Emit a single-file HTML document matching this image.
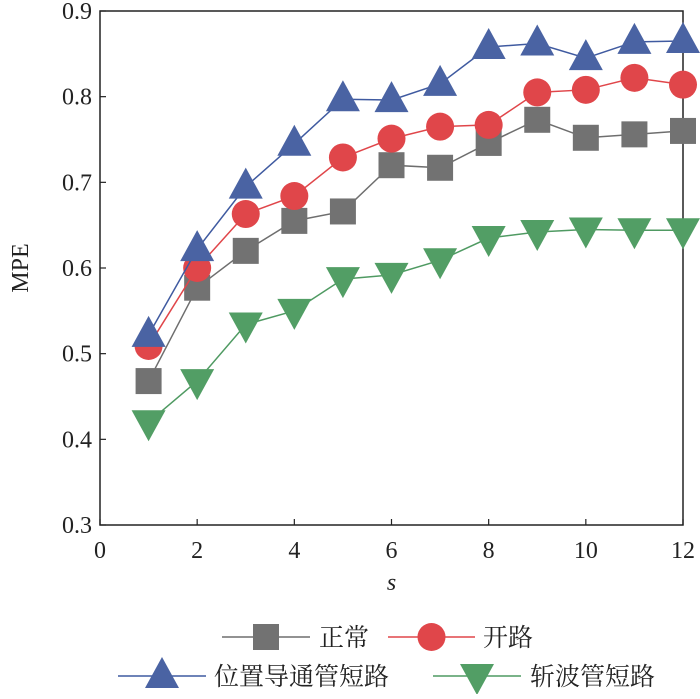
<!DOCTYPE html>
<html><head><meta charset="utf-8"><style>
body{margin:0;background:#fff;}
svg text{font-family:"Liberation Serif","Noto Serif CJK SC",serif;fill:#222;}
</style></head><body>
<svg id="chart" width="700" height="694" xmlns="http://www.w3.org/2000/svg"></svg>
<script>
const xValues=[1,2,3,4,5,6,7,8,9,10,11,12];
const normalVals=[0.468,0.577,0.620,0.655,0.666,0.720,0.717,0.746,0.773,0.752,0.756,0.760];
const openVals=[0.509,0.600,0.663,0.684,0.729,0.751,0.765,0.767,0.805,0.808,0.822,0.814];
const posShortVals=[0.522,0.622,0.695,0.745,0.797,0.796,0.815,0.858,0.862,0.845,0.864,0.865];
const chopShortVals=[0.420,0.468,0.534,0.550,0.587,0.592,0.609,0.635,0.642,0.645,0.644,0.644];
const xTicks=[0,2,4,6,8,10,12];
const yTicks=[0.3,0.4,0.5,0.6,0.7,0.8,0.9];
const seriesNames=["正常","开路","位置导通管短路","斩波管短路"];

const NS="http://www.w3.org/2000/svg";
const svg=document.getElementById('chart');
const L=100,R=683,T=11,B=525;
const xs=v=>L+(v-0)/12*(R-L);
const ys=v=>B-(v-0.3)/0.6*(B-T);
function mk(tag,attrs,parent){const e=document.createElementNS(NS,tag);for(const k in attrs)e.setAttribute(k,attrs[k]);(parent||svg).appendChild(e);return e;}

function marker(type,x,y,g){
  let e;
  if(type==='square'){e=mk('rect',{x:x-13,y:y-13,width:26,height:26,fill:'#727272'},g);}
  else if(type==='circle'){e=mk('circle',{cx:x,cy:y,r:14,fill:'#e0464a'},g);}
  else if(type==='up'){e=mk('polygon',{points:`${x},${y-19} ${x-17},${y+12} ${x+17},${y+12}`,fill:'#4a63a3'},g);}
  else {e=mk('polygon',{points:`${x},${y+19} ${x-17},${y-12} ${x+17},${y-12}`,fill:'#529e65'},g);}
  return e;
}

// axes frame
const frame=mk('rect',{x:L,y:T,width:R-L,height:B-T,fill:'none',stroke:'#222','stroke-width':1.5});



xTicks.forEach(t=>{
  const x=xs(t);
  mk('line',{x1:x,y1:B,x2:x,y2:B-6,stroke:'#222','stroke-width':1.2});
  const tx=mk('text',{x:x,y:B+33,'text-anchor':'middle','font-size':24});
  tx.textContent=t;
  
  
});
yTicks.forEach(t=>{
  const y=ys(t);
  mk('line',{x1:L,y1:y,x2:L+6,y2:y,stroke:'#222','stroke-width':1.2});
  const tx=mk('text',{x:L-8,y:y+8,'text-anchor':'end','font-size':24});
  tx.textContent=t.toFixed(1);
  
  
});
const yt=mk('text',{x:28,y:(T+B)/2,'text-anchor':'middle','font-size':24,transform:`rotate(-90 28 ${(T+B)/2})`});
yt.textContent='MPE';


const xt=mk('text',{x:(L+R)/2,y:590,'text-anchor':'middle','font-size':24,'font-style':'italic'});
xt.textContent='s';



const series=[
  {vals:normalVals,color:'#6e6e6e',type:'square',name:'series-normal'},
  {vals:openVals,color:'#e0464a',type:'circle',name:'series-open'},
  {vals:posShortVals,color:'#3f5aa0',type:'up',name:'series-position-short'},
  {vals:chopShortVals,color:'#4f9a62',type:'down',name:'series-chopper-short'}
];
series.forEach(s=>{
  const g=mk('g',{});
  
  
  const pts=xValues.map((x,i)=>`${xs(x)},${ys(s.vals[i])}`).join(' ');
  mk('polyline',{points:pts,fill:'none',stroke:s.color,'stroke-width':1.5},g);
  xValues.forEach((x,i)=>{
    const m=marker(s.type,xs(x),ys(s.vals[i]),g);
    
    
  });
});

// legend
const legend=[
  {x1:222,x2:310,y:637,tx:319,type:'square',color:'#6e6e6e'},
  {x1:388,x2:475,y:637,tx:483,type:'circle',color:'#e0464a'},
  {x1:118,x2:206,y:676,tx:214,type:'up',color:'#3f5aa0'},
  {x1:433,x2:521,y:676,tx:530,type:'down',color:'#4f9a62'}
];
legend.forEach((l,i)=>{
  const g=mk('g',{});
  
  
  mk('line',{x1:l.x1,y1:l.y,x2:l.x2,y2:l.y,stroke:l.color,'stroke-width':1.5},g);
  marker(l.type,(l.x1+l.x2)/2,l.y,g);
  const t=mk('text',{x:l.tx,y:l.y+9,'font-size':25},g);
  t.textContent=seriesNames[i];
});
</script>
</body></html>
